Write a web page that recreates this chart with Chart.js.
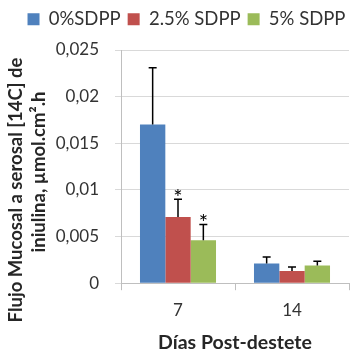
<!DOCTYPE html>
<html>
<head>
<meta charset="utf-8">
<script src="https://cdn.jsdelivr.net/npm/chart.js@4"></script>
<style>
  body { margin: 0; background: #fff; }
  #wrap { width: 350px; height: 357px; }
</style>
</head>
<body>
<div id="wrap"><canvas id="fluxChart"></canvas></div>
<script>
// Data
const categories = ['7', '14'];
const seriesNames = ['0%SDPP', '2.5% SDPP', '5% SDPP'];
const control = [0.017, 0.0021];
const sdpp25 = [0.0071, 0.0013];
const sdpp5 = [0.0046, 0.0019];
const controlErr = [0.0061, 0.0007];
const sdpp25Err = [0.0019, 0.00045];
const sdpp5Err = [0.0017, 0.00045];
const sdpp25Marks = ['*', ''];
const sdpp5Marks = ['*', ''];
const controlMarks = ['', ''];
const yTitleLines = ['Flujo Mucosal a serosal [14C] de', 'iniulina, µmol.cm².h'];

const FONT = 'Lato, "Open Sans", sans-serif';

// error bars (upper only) and significance stars
const errorBars = {
    id: 'errorBars',
    afterDatasetsDraw(chart) {
        const ctx = chart.ctx;
        const yScale = chart.scales.y;
        chart.data.datasets.forEach((ds, i) => {
            const meta = chart.getDatasetMeta(i);
            meta.data.forEach((bar, j) => {
                const top = yScale.getPixelForValue(ds.data[j] + ds.err[j]);
                ctx.save();
                ctx.strokeStyle = '#000';
                ctx.lineWidth = 1.5;
                ctx.beginPath();
                ctx.moveTo(bar.x, bar.y);
                ctx.lineTo(bar.x, top);
                ctx.moveTo(bar.x - 4, top);
                ctx.lineTo(bar.x + 4, top);
                ctx.stroke();
                if (ds.marks[j]) {
                    ctx.fillStyle = '#000';
                    ctx.font = '22px ' + FONT;
                    ctx.textAlign = 'center';
                    ctx.textBaseline = 'alphabetic';
                    ctx.fillText(ds.marks[j], bar.x, top + 6);
                }
                ctx.restore();
            });
        });
    }
};

// legend box height so the plot starts where the original does,
// and nudge the legend a little right like in the original
const legendGap = {
    id: 'legendGap',
    beforeInit(chart) {
        const fit = chart.legend.fit;
        chart.legend.fit = function () {
            fit.bind(chart.legend)();
            this.height = 47;
        };
    },
    afterLayout(chart) {
        chart.legend.left += 11;
        chart.legend.right += 11;
    }
};

// y title drawn by hand: the original sits lower than the plot centre
const yTitle = {
    id: 'yTitle',
    afterDraw(chart) {
        const ctx = chart.ctx;
        const pos = [[16, 190], [39, 172]];
        ctx.save();
        ctx.fillStyle = '#262626';
        ctx.font = 'bold 18.5px ' + FONT;
        ctx.textAlign = 'center';
        ctx.textBaseline = 'middle';
        yTitleLines.forEach((line, i) => {
            ctx.save();
            ctx.translate(pos[i][0], pos[i][1]);
            ctx.rotate(-Math.PI / 2);
            ctx.fillText(line, 0, 0);
            ctx.restore();
        });
        ctx.restore();
    }
};

const ctx = document.getElementById('fluxChart').getContext('2d');
const fluxChart = new Chart(ctx, {
    type: 'bar',
    data: {
        labels: categories,
        datasets: [
            { label: seriesNames[0], data: control, err: controlErr, marks: controlMarks, backgroundColor: '#4F81BD' },
            { label: seriesNames[1], data: sdpp25, err: sdpp25Err, marks: sdpp25Marks, backgroundColor: '#C0504D' },
            { label: seriesNames[2], data: sdpp5, err: sdpp5Err, marks: sdpp5Marks, backgroundColor: '#9BBB59' }
        ]
    },
    options: {
        responsive: true,
        maintainAspectRatio: false,
        animation: false,
        categoryPercentage: 0.667,
        barPercentage: 1,
        layout: { padding: { top: 3, right: 1, left: 2, bottom: 3 } },
        plugins: {
            tooltip: { enabled: false },
            legend: {
                position: 'top',
                labels: {
                    boxWidth: 12,
                    boxHeight: 12,
                    padding: 7,
                    color: '#333',
                    font: { family: FONT, size: 18.5 }
                }
            }
        },
        scales: {
            x: {
                grid: { display: true, drawOnChartArea: false, offset: true, tickLength: 7, color: '#bfbfbf' },
                border: { color: '#bfbfbf' },
                ticks: { color: '#333', padding: 10, font: { family: FONT, size: 17 } },
                title: {
                    display: true,
                    text: 'Días Post-destete',
                    color: '#262626',
                    padding: { top: 0, bottom: 0 },
                    font: { family: FONT, size: 19.5, weight: 'bold' }
                }
            },
            y: {
                min: 0,
                max: 0.025,
                afterFit: scale => { scale.width = 119; },
                grid: { color: '#d9d9d9', tickLength: 6 },
                border: { color: '#bfbfbf' },
                ticks: {
                    stepSize: 0.005,
                    color: '#333',
                    padding: 16,
                    font: { family: FONT, size: 17 },
                    callback: v => String(Math.round(v * 1000) / 1000).replace('.', ',')
                },
                title: { display: false }
            }
        }
    },
    plugins: [errorBars, legendGap, yTitle]
});
</script>
</body>
</html>
